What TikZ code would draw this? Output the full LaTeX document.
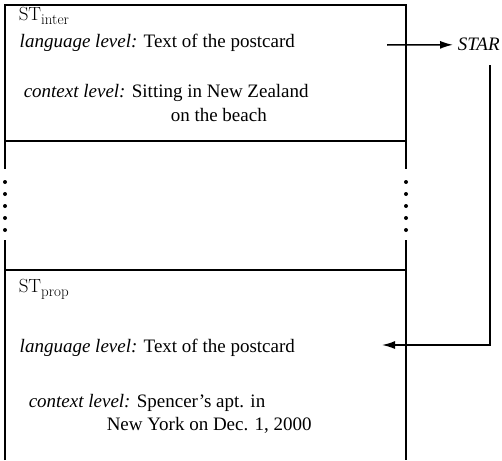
\documentclass[tikz,border=0pt]{standalone}
\usepackage{fontspec}
\setmainfont{Liberation Serif}
\newfontfamily\lmfont{Latin Modern Roman}
\usetikzlibrary{arrows.meta}
\begin{document}
\begin{tikzpicture}[x=1pt,y=-1pt,line width=1.5pt,
  txt/.style={anchor=base west,inner sep=0pt,font=\fontsize{19}{23}\selectfont},
  stlabel/.style={anchor=base west,inner sep=0pt,font=\lmfont\fontsize{19}{22}\selectfont},
  arr/.style={-{Latex[length=13pt,width=8pt]}},
  dotmark/.style={circle,fill,inner sep=0pt,minimum size=4pt}]
\useasboundingbox (0,0) rectangle (502,460);
% top box
\draw (5,5) rectangle (406,141);
\draw (5,141) -- (5,169);
\draw (406,141) -- (406,169);
\foreach \y in {182,194,206,218,230} {
  \node[dotmark] at (5,\y) {};
  \node[dotmark] at (406,\y) {};
}
\draw (5,240) -- (5,270);
\draw (406,240) -- (406,270);
% bottom box
\draw (5,460) -- (5,270) -- (406,270) -- (406,460);
% texts
\node[stlabel] (stinter) at (18,21) {ST\raisebox{-4pt}{\fontsize{15}{15}\selectfont inter}};
\node[txt] (lang1) at (19,47) {\textit{language level:} Text of the postcard};
\node[txt] (ctx1) at (23,97) {\textit{context level:} Sitting in New Zealand};
\node[txt] (ctx1b) at (170,121) {on the beach};
\node[stlabel] (stprop) at (18,292) {ST\raisebox{-4pt}{\fontsize{15}{15}\selectfont prop}};
\node[txt] (lang2) at (19,352) {\textit{language level:} Text of the postcard};
\node[txt] (ctx2) at (28,407) {\textit{context level:} Spencer’s apt. in};
\node[txt] (ctx2b) at (106,430) {New York on Dec. 1, 2000};
\node[txt] (star) at (457,51) {\textit{STAR}};
% connectors
\coordinate (a1) at (387,45);
\draw[arr] (a1) -- ([xshift=-4pt]star.west);
\coordinate (c1) at (490,65);
\coordinate (a2) at (382,345);
\draw[arr] (c1) |- (a2);
\end{tikzpicture}
\end{document}
